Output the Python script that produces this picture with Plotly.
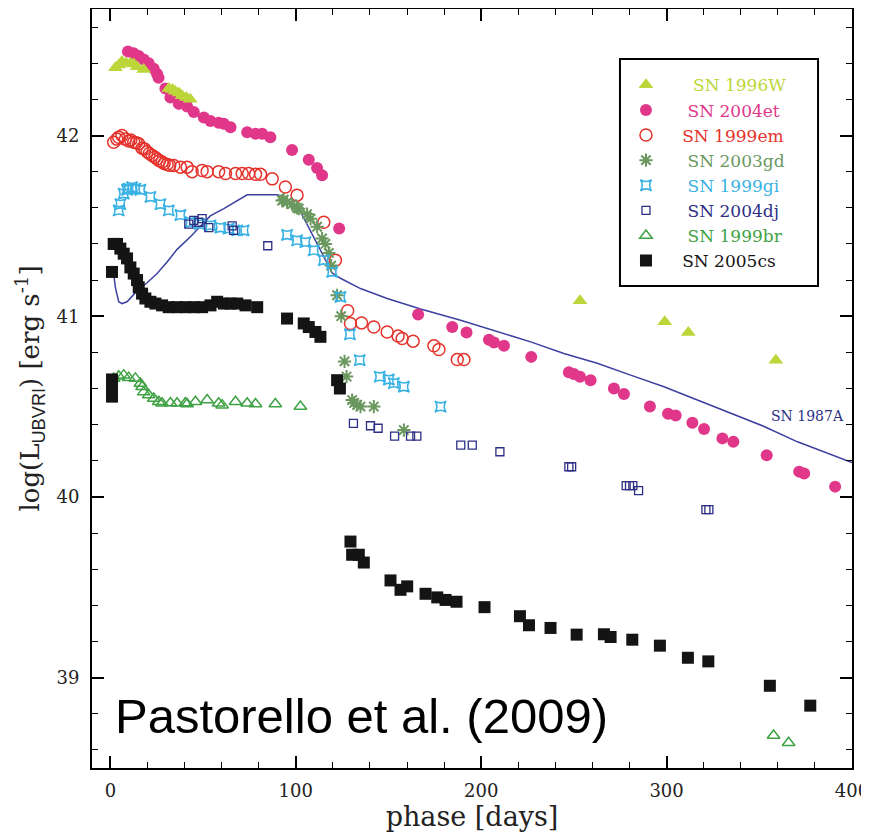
import plotly.graph_objects as go

# ---------------- data (phase in days, log L in erg/s) ----------------
sn1996w_day = [2.7, 4.5, 6.3, 8.5, 10.8, 12.6, 14.4, 18.0, 31.5, 33.5, 35.0, 37.0, 38.7, 41.0, 43.1,
               253.3, 299.0, 311.7, 358.9]
sn1996w_L = [42.375, 42.39, 42.41, 42.40, 42.40, 42.395, 42.38, 42.365, 42.26, 42.255, 42.245, 42.235,
             42.22, 42.21, 42.20, 41.085, 40.97, 40.91, 40.757]

sn2004et_day = [9.5, 12.5, 15.3, 18.0, 20.7, 23.4, 25.2, 26.0, 29.7, 32.4, 36.9, 41.4, 45.0, 50.4, 54.0,
                58.4, 61.2, 64.8, 73.8, 78.3, 81.9, 86.3, 98.0, 107.0, 111.5, 114.2, 123.4, 166.0, 184.4,
                192.1, 204.2, 206.9, 212.3, 227.0, 247.3, 250.0, 253.3, 259.0, 271.6, 277.0, 291.0,
                300.8, 304.9, 313.9, 320.2, 330.1, 336.0, 354.0, 371.5, 374.2, 390.9]
sn2004et_L = [42.465, 42.455, 42.44, 42.42, 42.40, 42.37, 42.34, 42.32, 42.26, 42.21, 42.175, 42.16,
              42.13, 42.10, 42.08, 42.07, 42.065, 42.046, 42.018, 42.01, 42.01, 41.99, 41.92, 41.866,
              41.82, 41.78, 41.485, 41.01, 40.94, 40.91, 40.87, 40.855, 40.836, 40.775, 40.69, 40.68,
              40.665, 40.646, 40.60, 40.57, 40.50, 40.46, 40.45, 40.41, 40.376, 40.324, 40.305, 40.23,
              40.14, 40.13, 40.057]

sn1999em_day = [1.8, 3.5, 4.5, 6.3, 8.1, 9.9, 11.0, 12.6, 14.0, 15.3, 17.1, 18.5, 19.8, 21.0, 22.5,
                24.0, 25.2, 26.5, 27.9, 29.0, 30.6, 32.0, 34.2, 37.8, 41.4, 44.1, 49.5, 52.2, 58.4,
                62.1, 67.5, 71.1, 74.6, 78.3, 81.0, 87.3, 94.4, 100.7, 115.1, 121.4, 128.0, 129.5,
                135.5, 142.1, 149.3, 155.2, 157.4, 163.3, 174.5, 177.2, 187.1, 190.7]
sn1999em_L = [41.963, 41.98, 41.99, 42.0, 41.98, 41.97, 41.975, 41.963, 41.96, 41.954, 41.93, 41.925,
              41.91, 41.90, 41.89, 41.88, 41.87, 41.86, 41.853, 41.845, 41.84, 41.835, 41.834, 41.825,
              41.825, 41.80, 41.806, 41.80, 41.80, 41.79, 41.79, 41.79, 41.79, 41.785, 41.785, 41.76,
              41.715, 41.67, 41.52, 41.31, 41.03, 40.96, 40.963, 40.94, 40.913, 40.89, 40.877, 40.862,
              40.836, 40.816, 40.76, 40.76]

sn2003gd_day = [92.6, 93.5, 95.3, 98.0, 100.7, 101.6, 106.1, 108.0, 111.5, 114.2, 116.0, 117.8, 119.1,
                122.3, 124.5, 126.3, 127.4, 130.4, 131.5, 133.1, 134.9, 142.1, 158.3]
sn2003gd_L = [41.64, 41.645, 41.63, 41.62, 41.60, 41.595, 41.565, 41.54, 41.495, 41.43, 41.40, 41.35,
              41.28, 41.116, 41.0, 40.75, 40.666, 40.536, 40.52, 40.51, 40.50, 40.50, 40.37]

sn1999gi_day = [4.5, 5.4, 7.2, 9.0, 9.9, 11.7, 13.5, 16.2, 21.6, 27.0, 31.5, 37.8, 43.2, 48.0, 54.0,
                59.4, 63.8, 68.4, 71.9, 95.3, 100.7, 105.2, 109.7, 115.1, 119.6, 124.1, 129.2, 134.5,
                145.3, 150.2, 152.9, 158.3, 178.1]
sn1999gi_L = [41.586, 41.62, 41.678, 41.70, 41.706, 41.714, 41.706, 41.70, 41.66, 41.62, 41.586, 41.56,
              41.52, 41.51, 41.503, 41.49, 41.485, 41.475, 41.475, 41.45, 41.42, 41.41, 41.365, 41.31,
              41.245, 41.107, 40.90, 40.757, 40.666, 40.65, 40.63, 40.61, 40.50]

sn2004dj_day = [42.3, 45.0, 47.7, 49.5, 53.1, 65.7, 66.5, 84.9, 131.1, 140.3, 144.4, 153.3, 161.9,
                165.3, 189.0, 195.2, 210.1, 247.3, 248.8, 278.2, 280.0, 281.8, 284.9, 321.2, 322.8]
sn2004dj_L = [41.51, 41.53, 41.52, 41.54, 41.49, 41.50, 41.475, 41.39, 40.407, 40.394, 40.38, 40.337,
              40.337, 40.337, 40.287, 40.287, 40.25, 40.167, 40.167, 40.062, 40.062, 40.062, 40.035,
              39.93, 39.93]

sn1999br_day = [1.8, 4.5, 7.2, 9.9, 13.5, 16.2, 17.1, 18.0, 20.7, 23.4, 26.1, 27.9, 32.4, 36.0, 40.5,
                41.4, 45.9, 52.2, 58.4, 60.3, 67.5, 73.8, 78.3, 89.0, 102.5, 357.7, 365.8]
sn1999br_L = [40.656, 40.668, 40.674, 40.66, 40.656, 40.628, 40.61, 40.58, 40.564, 40.545, 40.527,
              40.518, 40.52, 40.518, 40.52, 40.514, 40.527, 40.536, 40.518, 40.508, 40.527, 40.518,
              40.514, 40.514, 40.50, 38.68, 38.64]

sn2005cs_day = [0.9, 0.9, 0.9, 0.9, 1.8, 3.6, 5.4, 7.2, 9.0, 10.8, 12.6, 14.4, 15.3, 17.1, 18.9, 21.6,
                24.3, 27.9, 31.5, 36.0, 40.5, 45.0, 49.5, 54.0, 57.6, 61.2, 64.8, 68.4, 72.9, 79.2,
                95.3, 104.3, 107.0, 110.6, 113.3, 122.3, 123.8, 129.5, 130.4, 134.0, 136.7, 151.1,
                156.5, 160.1, 170.0, 176.3, 180.8, 186.7, 201.8, 220.9, 225.8, 237.4, 251.5, 266.2,
                269.8, 281.5, 296.4, 311.5, 322.5, 355.7, 377.5]
sn2005cs_L = [41.245, 40.65, 40.60, 40.555, 41.40, 41.40, 41.374, 41.346, 41.32, 41.27, 41.236, 41.20,
              41.16, 41.125, 41.098, 41.08, 41.07, 41.06, 41.05, 41.05, 41.05, 41.05, 41.05, 41.06,
              41.08, 41.07, 41.07, 41.07, 41.06, 41.05, 40.987, 40.96, 40.94, 40.913, 40.886, 40.646,
              40.60, 39.753, 39.68, 39.68, 39.637, 39.538, 39.486, 39.505, 39.464, 39.444, 39.43,
              39.42, 39.39, 39.34, 39.29, 39.275, 39.238, 39.24, 39.225, 39.21, 39.177, 39.11, 39.09,
              38.955, 38.845]

sn1987a_day = [1.8, 2.7, 4.5, 6.3, 9.0, 11.7, 14.4, 19.8, 25.2, 30.6, 36.0, 43.2, 48.5, 53.9, 61.2,
               68.4, 73.8, 81.0, 90.0, 93.0, 97.1, 102.5, 108.0, 114.2, 119.6, 124.1, 134.9, 149.3,
               167.3, 188.9, 208.7, 226.7, 244.6, 262.6, 280.6, 298.6, 316.6, 334.6, 352.6, 370.6, 400.0]
sn1987a_L = [41.236, 41.16, 41.08, 41.07, 41.08, 41.11, 41.14, 41.185, 41.236, 41.30, 41.37, 41.44,
             41.50, 41.555, 41.595, 41.64, 41.672, 41.672, 41.672, 41.66, 41.62, 41.58, 41.47, 41.346,
             41.24, 41.21, 41.153, 41.098, 41.04, 40.978, 40.913, 40.858, 40.794, 40.74, 40.674,
             40.61, 40.536, 40.462, 40.39, 40.305, 40.19]

x_ticks = [0, 100, 200, 300, 400]
y_ticks = [39, 40, 41, 42]

SERIF = "DejaVu Serif"

def lname(text, color, pad):
    return "\u00a0" * pad + f"<span style='color:{color}'>{text}</span>"

fig = go.Figure()

fig.add_trace(go.Scatter(x=sn1987a_day, y=sn1987a_L, mode="lines",
                         line=dict(color="#3c41a0", width=1.5), showlegend=False, hoverinfo="skip"))

series = [
    # name, x, y, symbol, size, color, linewidth, rank, pad
    ("SN 2004et", sn2004et_day, sn2004et_L, "circle", 12, "#e0378a", 0, 2, 4),
    ("SN 1996W", sn1996w_day, sn1996w_L, "triangle-up", 13, "#bcd63a", 0, 1, 5),
    ("SN 1999em", sn1999em_day, sn1999em_L, "circle-open", 12, "#e5322b", 1.5, 3, 3),
    ("SN 2003gd", sn2003gd_day, sn2003gd_L, "asterisk-open", 11, "#6a985f", 2, 4, 4),
    ("SN 1999gi", sn1999gi_day, sn1999gi_L, "star-square-open", 10, "#3ab2e4", 1.6, 5, 4),
    ("SN 2004dj", sn2004dj_day, sn2004dj_L, "square-open", 8, "#2c2f85", 1.3, 6, 4),
    ("SN 1999br", sn1999br_day, sn1999br_L, "triangle-up-open", 11, "#3fa244", 1.5, 7, 4),
    ("SN 2005cs", sn2005cs_day, sn2005cs_L, "square", 12, "#141414", 0, 8, 3),
]

for name, xs, ys, sym, size, color, lw, rank, pad in series:
    mk = dict(symbol=sym, size=size, color=color)
    if lw:
        mk["line"] = dict(width=lw, color=color)
    else:
        mk["line"] = dict(width=0)
    fig.add_trace(go.Scatter(x=xs, y=ys, mode="markers", marker=mk,
                             name=lname(name, color, pad), legendrank=rank))

fig.add_annotation(x=376, y=40.446, xref="x", yref="y", text="SN 1987A", showarrow=False,
                   font=dict(family=SERIF, size=14, color="#2c2f85"))

fig.add_annotation(x=0.0276, y=0.0685, xref="paper", yref="paper", xanchor="left", yanchor="middle",
                   text="Pastorello et al. (2009)", showarrow=False,
                   font=dict(family="Liberation Sans", size=49, color="black"))

# legend frame
fig.add_shape(type="rect", xref="paper", yref="paper", x0=0.6947, x1=0.9553, y0=0.635, y1=0.934,
              line=dict(color="black", width=2), fillcolor="white", layer="above")

axis_common = dict(showgrid=False, zeroline=False, showline=True, linecolor="black", linewidth=2,
                   mirror="ticks", ticks="inside", tickcolor="black", tickwidth=1.5, ticklen=12,
                   tickfont=dict(family=SERIF, size=18, color="#222222"))

fig.update_xaxes(range=[-9.9, 400], tickvals=x_ticks, ticklabeloverflow="allow",
                 minor=dict(dtick=20, ticks="inside", ticklen=6, tickcolor="black", tickwidth=1.3),
                 title=dict(text="phase [days]", font=dict(family=SERIF, size=27, color="#222222"),
                            standoff=7),
                 ticklabelstandoff=5, **axis_common)
fig.update_yaxes(range=[38.5, 42.7], tickvals=y_ticks,
                 minor=dict(dtick=0.2, ticks="inside", ticklen=6, tickcolor="black", tickwidth=1.3),
                 title=dict(text="log(L<sub><span style='font-family:Liberation Sans'>UBVRI</span></sub>) [erg s<sup>-1</sup>]",
                            font=dict(family=SERIF, size=26, color="#222222"), standoff=9),
                 ticklabelstandoff=7, **axis_common)

# the page body adds an 8px margin, so the figure is 8px smaller and shifted
fig.update_layout(
    width=861, height=827,
    margin=dict(l=84, r=17, t=1, b=67, autoexpand=False),
    paper_bgcolor="white", plot_bgcolor="white",
    legend=dict(x=0.7026, y=0.9232, xanchor="left", yanchor="top", borderwidth=0,
                bgcolor="rgba(0,0,0,0)", font=dict(family=SERIF, size=17, color="#222222"),
                traceorder="normal"),
    showlegend=True,
)

fig.write_html("out.html")
